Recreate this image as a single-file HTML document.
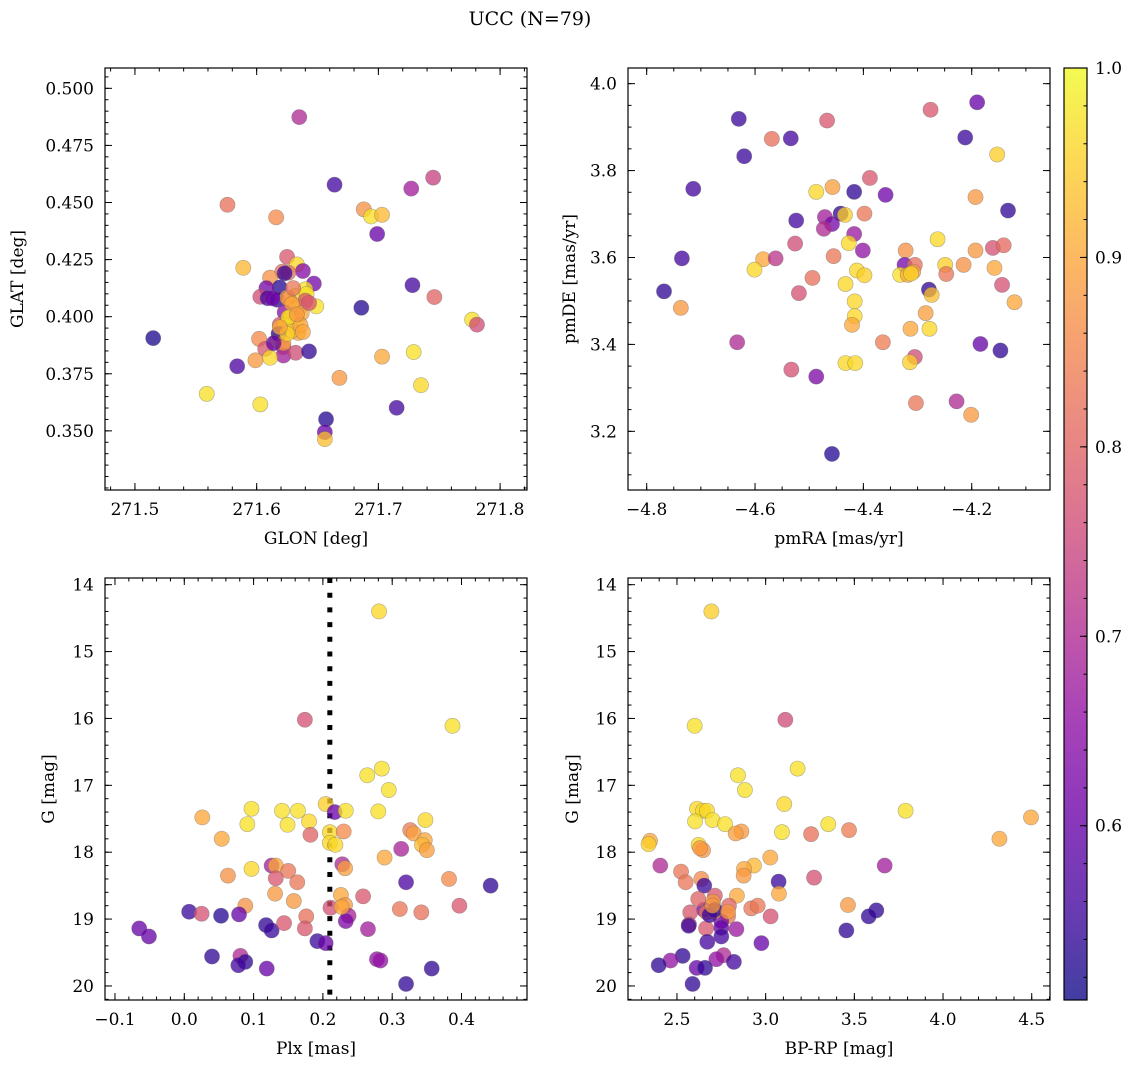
<!DOCTYPE html>
<html><head><meta charset="utf-8"><style>
html,body{margin:0;padding:0;background:#fff;}
svg{display:block;font-family:"DejaVu Serif","Liberation Serif",serif;}
</style></head><body>
<svg id="fig" width="1136" height="1067" viewBox="0 0 1136 1067" xmlns="http://www.w3.org/2000/svg">
<defs><linearGradient id="cbg" x1="0" y1="1" x2="0" y2="0">
<stop offset="0" stop-color="#0d0887"/><stop offset="0.1" stop-color="#41049d"/><stop offset="0.2" stop-color="#6a00a8"/><stop offset="0.3" stop-color="#8f0da4"/><stop offset="0.4" stop-color="#b12a90"/><stop offset="0.5" stop-color="#cc4778"/><stop offset="0.6" stop-color="#e16462"/><stop offset="0.7" stop-color="#f2844b"/><stop offset="0.8" stop-color="#fca636"/><stop offset="0.9" stop-color="#fcce25"/><stop offset="1" stop-color="#f0f921"/>
</linearGradient></defs>
<text x="530" y="25" font-size="19" text-anchor="middle">UCC (N=79)</text>
</svg>
<script>
// ---- data (top-left: GLON/GLAT) ----
const tlX=[271.515,271.635,271.664,271.727,271.745,271.576,271.616,271.688,271.694,271.703,271.699,271.589,271.625,271.633,271.638,271.621,271.626,271.611,271.647,271.619,271.608,271.640,271.603,271.609,271.617,271.632,271.627,271.641,271.649,271.635,271.686,271.728,271.746,271.623,271.628,271.633,271.619,271.623,271.634,271.629,271.602,271.617,271.607,271.622,271.622,271.632,271.643,271.611,271.599,271.584,271.703,271.729,271.668,271.735,271.559,271.603,271.715,271.657,271.656,271.656,271.777,271.781,271.618,271.622,271.640,271.637,271.625,271.623,271.629,271.614,271.636,271.630,271.643,271.626,271.638,271.613,271.633,271.625,271.619];
const tlY=[0.3906,0.4874,0.4578,0.4561,0.4609,0.449,0.4435,0.447,0.4439,0.4446,0.4362,0.4214,0.4262,0.4229,0.420,0.4197,0.4193,0.4171,0.4145,0.4128,0.4125,0.412,0.4087,0.4081,0.4074,0.4091,0.407,0.4099,0.4045,0.404,0.4039,0.4138,0.4086,0.4019,0.40,0.3986,0.3965,0.3961,0.3929,0.3939,0.3903,0.3893,0.3859,0.3867,0.383,0.3842,0.3848,0.382,0.3809,0.3783,0.3825,0.3845,0.3732,0.37,0.3662,0.3616,0.3601,0.3551,0.3494,0.3464,0.3987,0.3965,0.3925,0.3884,0.407,0.4016,0.4084,0.419,0.4055,0.3884,0.3963,0.4125,0.406,0.3997,0.3933,0.408,0.401,0.3925,0.3954];
const tlC=[0.52,0.70,0.56,0.68,0.74,0.82,0.86,0.87,0.97,0.92,0.60,0.92,0.78,0.96,0.64,0.82,0.82,0.87,0.62,0.53,0.62,0.97,0.76,0.56,0.54,0.96,0.88,0.97,0.97,0.93,0.53,0.56,0.80,0.65,0.97,0.96,0.78,0.96,0.90,0.93,0.86,0.96,0.78,0.80,0.68,0.76,0.54,0.96,0.88,0.57,0.90,0.97,0.88,0.96,0.97,0.97,0.56,0.53,0.60,0.93,0.97,0.76,0.54,0.88,0.78,0.90,0.88,0.55,0.90,0.60,0.90,0.83,0.78,0.96,0.90,0.62,0.88,0.95,0.90];
// ---- data (top-right: pmRA/pmDE) ----
const trX=[-4.630,-4.467,-4.569,-4.534,-4.620,-4.276,-4.190,-4.212,-4.153,-4.714,-4.388,-4.487,-4.457,-4.417,-4.359,-4.193,-4.133,-4.442,-4.434,-4.398,-4.524,-4.471,-4.458,-4.473,-4.417,-4.427,-4.526,-4.401,-4.263,-4.322,-4.193,-4.161,-4.141,-4.735,-4.585,-4.562,-4.455,-4.601,-4.324,-4.305,-4.412,-4.398,-4.249,-4.215,-4.158,-4.332,-4.318,-4.308,-4.247,-4.494,-4.768,-4.519,-4.433,-4.279,-4.274,-4.144,-4.737,-4.121,-4.416,-4.416,-4.421,-4.285,-4.313,-4.278,-4.633,-4.364,-4.184,-4.147,-4.533,-4.487,-4.433,-4.415,-4.305,-4.314,-4.303,-4.228,-4.201,-4.458,-4.312];
const trY=[3.919,3.915,3.873,3.874,3.833,3.940,3.957,3.876,3.837,3.758,3.783,3.751,3.762,3.751,3.744,3.739,3.708,3.701,3.698,3.701,3.685,3.693,3.677,3.666,3.654,3.633,3.632,3.616,3.642,3.616,3.616,3.622,3.628,3.598,3.596,3.598,3.603,3.572,3.583,3.583,3.570,3.559,3.583,3.583,3.576,3.560,3.560,3.567,3.562,3.553,3.522,3.518,3.539,3.526,3.514,3.537,3.484,3.497,3.499,3.465,3.445,3.472,3.436,3.436,3.405,3.405,3.401,3.386,3.342,3.326,3.357,3.357,3.371,3.359,3.265,3.269,3.238,3.148,3.563];
const trC=[0.55,0.78,0.82,0.56,0.55,0.78,0.60,0.55,0.95,0.56,0.78,0.96,0.89,0.54,0.61,0.88,0.54,0.54,0.95,0.83,0.56,0.68,0.62,0.70,0.67,0.96,0.76,0.66,0.96,0.87,0.88,0.77,0.81,0.56,0.90,0.72,0.83,0.96,0.62,0.82,0.96,0.95,0.95,0.87,0.90,0.97,0.90,0.88,0.83,0.82,0.54,0.77,0.96,0.54,0.93,0.77,0.88,0.90,0.96,0.96,0.90,0.89,0.90,0.96,0.70,0.84,0.60,0.54,0.77,0.63,0.96,0.96,0.76,0.95,0.83,0.70,0.88,0.53,0.96];
// ---- data (bottom-left: Plx/G) ----
const blX=[0.281,0.174,0.387,0.264,0.285,0.295,0.204,0.217,0.233,0.280,0.026,0.097,0.141,0.164,0.091,0.149,0.180,0.348,0.210,0.230,0.182,0.054,0.326,0.331,0.347,0.343,0.350,0.210,0.218,0.313,0.289,0.126,0.132,0.228,0.232,0.097,0.150,0.063,0.132,0.163,0.320,0.382,0.442,0.131,0.226,0.258,0.158,0.088,0.232,0.211,0.311,0.342,0.397,0.007,0.025,0.053,0.079,0.176,0.237,0.233,0.118,0.126,0.144,0.174,0.265,-0.065,-0.051,0.192,0.204,0.040,0.081,0.088,0.078,0.119,0.278,0.283,0.357,0.320,0.227];
const blY=[14.40,16.02,16.11,16.85,16.75,17.07,17.28,17.40,17.38,17.39,17.48,17.35,17.38,17.38,17.58,17.59,17.54,17.52,17.70,17.69,17.74,17.80,17.67,17.72,17.82,17.89,17.97,17.86,17.89,17.95,18.08,18.20,18.20,18.18,18.24,18.25,18.28,18.35,18.39,18.45,18.45,18.40,18.50,18.62,18.64,18.66,18.73,18.80,18.79,18.83,18.85,18.90,18.80,18.89,18.92,18.95,18.93,18.96,18.95,19.03,19.09,19.17,19.06,19.14,19.15,19.14,19.26,19.33,19.36,19.56,19.55,19.64,19.69,19.74,19.60,19.62,19.74,19.97,18.82];
const blC=[0.96,0.77,0.97,0.97,0.97,0.97,0.95,0.60,0.97,0.97,0.90,0.97,0.97,0.97,0.97,0.97,0.96,0.96,0.96,0.86,0.80,0.90,0.84,0.89,0.90,0.92,0.89,0.96,0.96,0.69,0.90,0.68,0.90,0.70,0.89,0.96,0.83,0.87,0.78,0.83,0.57,0.86,0.54,0.88,0.90,0.78,0.88,0.87,0.88,0.77,0.83,0.82,0.78,0.55,0.77,0.53,0.60,0.82,0.69,0.63,0.54,0.55,0.78,0.78,0.68,0.60,0.60,0.55,0.60,0.54,0.70,0.54,0.56,0.60,0.66,0.66,0.54,0.54,0.90];
// ---- data (bottom-right: BP-RP/G) ----
const brX=[2.694,2.600,3.111,3.180,2.844,2.883,3.105,2.613,2.647,2.669,3.789,4.496,2.602,2.701,2.771,3.353,2.863,2.831,3.092,3.256,3.470,4.318,2.348,2.340,2.622,2.647,3.026,2.406,3.671,2.523,2.934,2.878,2.876,2.549,2.637,2.654,3.073,3.273,3.075,2.714,2.838,2.703,2.793,2.919,2.955,3.464,2.652,2.667,2.575,2.788,3.028,3.624,3.581,2.568,2.566,2.750,2.664,2.750,2.835,3.455,2.750,2.671,2.976,2.532,2.464,2.397,2.763,2.722,2.821,2.611,2.658,2.588,2.630,2.709,2.712,2.684,2.788,2.620,2.700];
const brY=[14.40,16.11,16.02,16.75,16.85,17.07,17.28,17.35,17.38,17.38,17.38,17.48,17.54,17.52,17.58,17.58,17.69,17.72,17.70,17.73,17.67,17.80,17.83,17.88,17.89,17.97,18.08,18.20,18.20,18.29,18.20,18.25,18.35,18.45,18.40,18.50,18.44,18.38,18.62,18.65,18.65,18.74,18.80,18.84,18.80,18.79,18.86,18.90,18.90,18.96,18.96,18.87,18.96,19.08,19.10,19.03,19.14,19.13,19.15,19.17,19.26,19.34,19.36,19.55,19.62,19.69,19.54,19.60,19.64,19.73,19.73,19.97,17.94,18.89,18.86,18.94,18.89,18.70,18.80];
const brC=[0.95,0.97,0.76,0.97,0.97,0.97,0.96,0.96,0.96,0.96,0.97,0.90,0.97,0.97,0.97,0.97,0.88,0.89,0.97,0.82,0.84,0.90,0.90,0.95,0.96,0.88,0.90,0.70,0.68,0.83,0.92,0.90,0.88,0.83,0.86,0.55,0.55,0.77,0.90,0.78,0.90,0.88,0.80,0.83,0.83,0.88,0.62,0.82,0.78,0.83,0.77,0.54,0.54,0.76,0.55,0.62,0.78,0.60,0.67,0.54,0.56,0.56,0.60,0.54,0.66,0.54,0.70,0.66,0.56,0.60,0.54,0.54,0.88,0.90,0.54,0.55,0.88,0.80,0.88];
// tick labels
const tlXTicks=[271.5,271.6,271.7,271.8];
const tlYTicks=[0.350,0.375,0.400,0.425,0.450,0.475,0.500];
const trXTicks=[-4.8,-4.6,-4.4,-4.2];
const trYTicks=[3.2,3.4,3.6,3.8,4.0];
const blXTicks=[-0.1,0.0,0.1,0.2,0.3,0.4];
const gTicks=[14,15,16,17,18,19,20];
const brXTicks=[2.5,3.0,3.5,4.0,4.5];
const cbTicks=[0.6,0.7,0.8,0.9,1.0];
const plxLine=0.21;

const NS="http://www.w3.org/2000/svg";
const svg=document.getElementById('fig');
function mk(tag,attrs,parent){const e=document.createElementNS(NS,tag);for(const k in attrs)e.setAttribute(k,attrs[k]);(parent||svg).appendChild(e);return e;}
const stops=[[13,8,135],[65,4,157],[106,0,168],[143,13,164],[177,42,144],[204,71,120],[225,100,98],[242,132,75],[252,166,54],[252,206,37],[240,249,33]];
const vmin=0.508,vmax=1.0;
function cmap(v){let t=(v-vmin)/(vmax-vmin);t=Math.max(0,Math.min(1,t))*10;const i=Math.min(9,Math.floor(t));const f=t-i;const a=stops[i],b=stops[i+1];return 'rgb('+a.map((c,k)=>Math.round(c+(b[k]-c)*f)).join(',')+')';}
function fmt(v,d){let s=v.toFixed(d);if(v<0)s='\u2212'+s.slice(1);return s;}
const FS=17;

function panel(o){
  const g=mk('g',{});
  
  
  const X=v=>o.px0+(v-o.x0)/(o.x1-o.x0)*(o.px1-o.px0);
  const Y=o.yInv? (v=>o.py0+(v-o.y0)/(o.y1-o.y0)*(o.py1-o.py0)) : (v=>o.py1-(v-o.y0)/(o.y1-o.y0)*(o.py1-o.py0));
  if(o.vline!==undefined){const l=mk('line',{x1:X(o.vline),x2:X(o.vline),y1:o.py0,y2:o.py1,stroke:'#000','stroke-width':5,'stroke-dasharray':'5 9.7'},g);
    
    }
  for(let i=0;i<o.xs.length;i++){
    const c=mk('circle',{cx:X(o.xs[i]),cy:Y(o.ys[i]),r:7.6,fill:cmap(o.cs[i]),'fill-opacity':0.76,stroke:'#666','stroke-opacity':0.5,'stroke-width':0.6},g);
    
    
  }
  mk('rect',{x:o.px0,y:o.py0,width:o.px1-o.px0,height:o.py1-o.py0,fill:'none',stroke:'#000','stroke-width':1.2},g);
  const tk=(lo,hi,step)=>{const r=[];const n0=Math.ceil(lo/step-1e-6),n1=Math.floor(hi/step+1e-6);for(let n=n0;n<=n1;n++)r.push(n*step);return r;};
  tk(o.x0,o.x1,o.xmin).forEach(v=>{const x=X(v);mk('line',{x1:x,x2:x,y1:o.py1,y2:o.py1-3.5,stroke:'#000'},g);mk('line',{x1:x,x2:x,y1:o.py0,y2:o.py0+3.5,stroke:'#000'},g);});
  tk(o.y0,o.y1,o.ymin).forEach(v=>{const y=Y(v);mk('line',{x1:o.px0,x2:o.px0+3.5,y1:y,y2:y,stroke:'#000'},g);mk('line',{x1:o.px1,x2:o.px1-3.5,y1:y,y2:y,stroke:'#000'},g);});
  o.xt.forEach(v=>{const x=X(v);mk('line',{x1:x,x2:x,y1:o.py1,y2:o.py1-7,stroke:'#000'},g);mk('line',{x1:x,x2:x,y1:o.py0,y2:o.py0+7,stroke:'#000'},g);
    const t=mk('text',{x:x,y:o.py1+25,'font-size':FS,'text-anchor':'middle'},g);t.textContent=fmt(v,o.xd);
    
    });
  o.yt.forEach(v=>{const y=Y(v);mk('line',{x1:o.px0,x2:o.px0+7,y1:y,y2:y,stroke:'#000'},g);mk('line',{x1:o.px1,x2:o.px1-7,y1:y,y2:y,stroke:'#000'},g);
    const t=mk('text',{x:o.px0-11,y:y+6,'font-size':FS,'text-anchor':'end'},g);t.textContent=fmt(v,o.yd);
    
    });
  const xl=mk('text',{x:(o.px0+o.px1)/2,y:o.py1+54,'font-size':FS,'text-anchor':'middle'},g);xl.textContent=o.xlab;
  
  
  const yl=mk('text',{x:0,y:0,'font-size':FS,'text-anchor':'middle',transform:'translate('+o.ylx+','+(o.py0+o.py1)/2+') rotate(-90)'},g);yl.textContent=o.ylab;
  
  
}
panel({name:'glon-glat-panel',xs:tlX,ys:tlY,cs:tlC,x0:271.4754,x1:271.8221,y0:0.3241,y1:0.5089,px0:105,px1:527,py0:68,py1:490,xt:tlXTicks,yt:tlYTicks,xd:1,yd:3,xmin:0.02,ymin:0.005,xlab:'GLON [deg]',ylab:'GLAT [deg]',ylx:23});
panel({name:'pmra-pmde-panel',xs:trX,ys:trY,cs:trC,x0:-4.8345,x1:-4.0555,y0:3.065,y1:4.036,px0:628,px1:1050,py0:68,py1:490,xt:trXTicks,yt:trYTicks,xd:1,yd:1,xmin:0.05,ymin:0.05,xlab:'pmRA [mas/yr]',ylab:'pmDE [mas/yr]',ylx:575});
panel({name:'plx-g-panel',xs:blX,ys:blY,cs:blC,x0:-0.1144,x1:0.4945,y0:13.90,y1:20.21,yInv:true,px0:105,px1:527,py0:578,py1:1000,xt:blXTicks,yt:gTicks,xd:1,yd:0,xmin:0.02,ymin:0.2,xlab:'Plx [mas]',ylab:'G [mag]',ylx:54,vline:plxLine});
panel({name:'bprp-g-panel',xs:brX,ys:brY,cs:brC,x0:2.224,x1:4.603,y0:13.90,y1:20.21,yInv:true,px0:628,px1:1050,py0:578,py1:1000,xt:brXTicks,yt:gTicks,xd:1,yd:0,xmin:0.1,ymin:0.2,xlab:'BP-RP [mag]',ylab:'G [mag]',ylx:578});

// colorbar
const cb=mk('g',{});


mk('rect',{x:1064,y:68,width:23,height:932,fill:'url(#cbg)','fill-opacity':0.78},cb);
mk('rect',{x:1064,y:68,width:23,height:932,fill:'none',stroke:'#000','stroke-width':1.2},cb);
const CY=v=>1000-(v-vmin)/(vmax-vmin)*932;
for(let v=0.52;v<=1.0001;v+=0.02){const y=CY(v);mk('line',{x1:1087,x2:1083.5,y1:y,y2:y,stroke:'#000'},cb);}
cbTicks.forEach(v=>{const y=CY(v);mk('line',{x1:1087,x2:1080,y1:y,y2:y,stroke:'#000'},cb);
  const t=mk('text',{x:1095,y:y+6,'font-size':FS},cb);t.textContent=v.toFixed(1);
  
  });
</script>
</body></html>
